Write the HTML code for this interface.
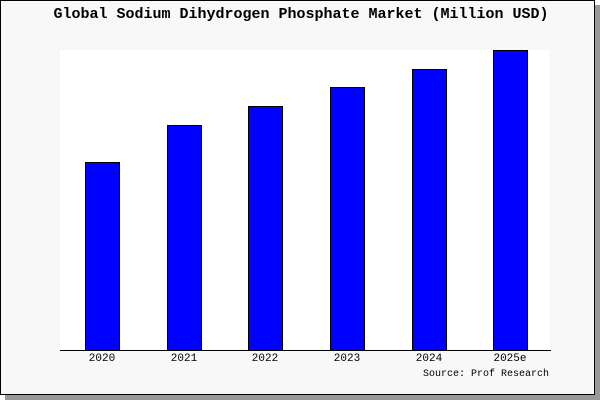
<!DOCTYPE html>
<html><head><style>
body{margin:0;width:600px;height:400px;background:#fff;position:relative;overflow:hidden;font-family:"Liberation Mono","DejaVu Sans Mono",monospace}
.sh{position:absolute;left:5px;top:5px;width:595px;height:395px;background:#999}
.box{position:absolute;left:0;top:0;width:593px;height:393px;border:1px solid #000;background:#f8f8f8}
.plot{position:absolute;left:60px;top:50px;width:490px;height:300px;background:#fff}
.ax{position:absolute;left:60px;top:350px;width:491px;height:1px;background:#000}
.bar{position:absolute;background:#00f;border:1px solid #000;box-sizing:border-box;width:35px}
.t{position:absolute;font-size:11px;color:#000;width:60px;text-align:center;top:353px}
</style></head><body>
<div class="sh"></div><div class="box"></div>
<div class="plot"></div>
<div style="position:absolute;left:4px;width:594px;top:6px;text-align:center;font-size:15px;font-weight:bold">Global Sodium Dihydrogen Phosphate Market (Million USD)</div>
<div class="bar" style="left:85px;top:162px;height:189px"></div>
<div class="bar" style="left:167px;top:125px;height:226px"></div>
<div class="bar" style="left:248px;top:106px;height:245px"></div>
<div class="bar" style="left:330px;top:87px;height:264px"></div>
<div class="bar" style="left:412px;top:69px;height:282px"></div>
<div class="bar" style="left:493px;top:50px;height:301px"></div>
<div class="ax"></div>
<div class="t" style="left:72px">2020</div>
<div class="t" style="left:154px">2021</div>
<div class="t" style="left:235px">2022</div>
<div class="t" style="left:317px">2023</div>
<div class="t" style="left:399px">2024</div>
<div class="t" style="left:480px">2025e</div>
<div style="position:absolute;left:423px;top:369px;font-size:10px">Source: Prof Research</div>
</body></html>
